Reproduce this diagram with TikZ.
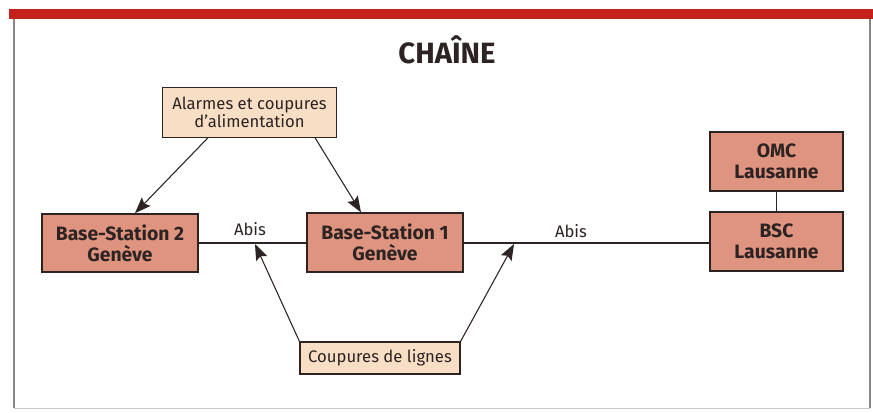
\documentclass[tikz,border=0pt]{standalone}
\usepackage{fontspec}
\setmainfont{Fira Sans}
\usepackage{tikz}
\usetikzlibrary{arrows.meta,shapes}

\definecolor{barred}{RGB}{196,32,28}
\definecolor{boxdark}{RGB}{222,148,126}
\definecolor{boxlight}{RGB}{248,222,196}
\definecolor{edge}{RGB}{45,35,35}

\tikzset{
  station/.style={draw=edge, line width=1.2pt, fill=boxdark, align=center,
    font=\fontsize{14.5}{16}\selectfont\bfseries, text=edge, inner sep=0pt},
  note/.style={draw=edge, line width=0.8pt, fill=boxlight, align=center,
    font=\fontsize{12.5}{14}\selectfont, text=edge, inner sep=0pt},
  link/.style={draw=edge, line width=0.8pt},
  pointer/.style={draw=edge, line width=0.8pt, -{Stealth[length=12pt,width=9pt,inset=2pt]}}
}

\begin{document}
\begin{tikzpicture}[x=0.75pt,y=-0.75pt]
\useasboundingbox (0,0) rectangle (873,412);
\fill[white] (0,0) rectangle (873,412);
% cadre
\fill[barred] (9,9) rectangle (873,19);
\draw[edge!55, line width=0.8pt] (14,19) -- (14,408);
\draw[edge!55, line width=0.8pt] (870,19) -- (870,408);
\draw[edge!25, line width=0.6pt] (14,408) -- (870,408);
\node[font=\fontsize{22}{24}\selectfont\bfseries, text=edge] (titre) at (447,50) {CHAÎNE};

% boites
\node[note, minimum width=130pt, minimum height=37pt] (alarmes) at (249.5,112.5) {Alarmes et coupures\\d'alimentation};
\node[station, minimum width=117pt, minimum height=43.5pt] (bs2) at (120,243) {Base-Station 2\\Genève};
\node[station, minimum width=117pt, minimum height=44pt] (bs1) at (385,242.5) {Base-Station 1\\Genève};
\node[station, minimum width=100pt, minimum height=44pt] (omc) at (776.5,161.5) {OMC\\Lausanne};
\node[station, minimum width=100pt, minimum height=44pt] (bsc) at (776.5,241.5) {BSC\\Lausanne};
\node[note, minimum width=120pt, minimum height=24pt] (coupures) at (380,358) {Coupures de lignes};

% liaisons
\draw[link] (bs2.east |- 0,243) -- (bs1.west |- 0,243);
\draw[link] (bs1.east |- 0,243) -- (bsc.west |- 0,243);
\draw[link] (omc) -- (bsc);
\node[font=\fontsize{12.5}{14}\selectfont, text=edge] (abis1) at (250,229) {Abis};
\node[font=\fontsize{12.5}{14}\selectfont, text=edge] (abis2) at (571,231) {Abis};
\coordinate (cutL) at (255,244);
\coordinate (cutR) at (514,244);

% fleches
\draw[pointer] (alarmes.south -| 208,0) -- (bs2.north -| 135,0);
\draw[pointer] (alarmes.south -| 315,0) -- (bs1.north -| 361,0);
\draw[pointer] (coupures.north west) -- (cutL);
\draw[pointer] (coupures.north east) -- (cutR);

\end{tikzpicture}
\end{document}
